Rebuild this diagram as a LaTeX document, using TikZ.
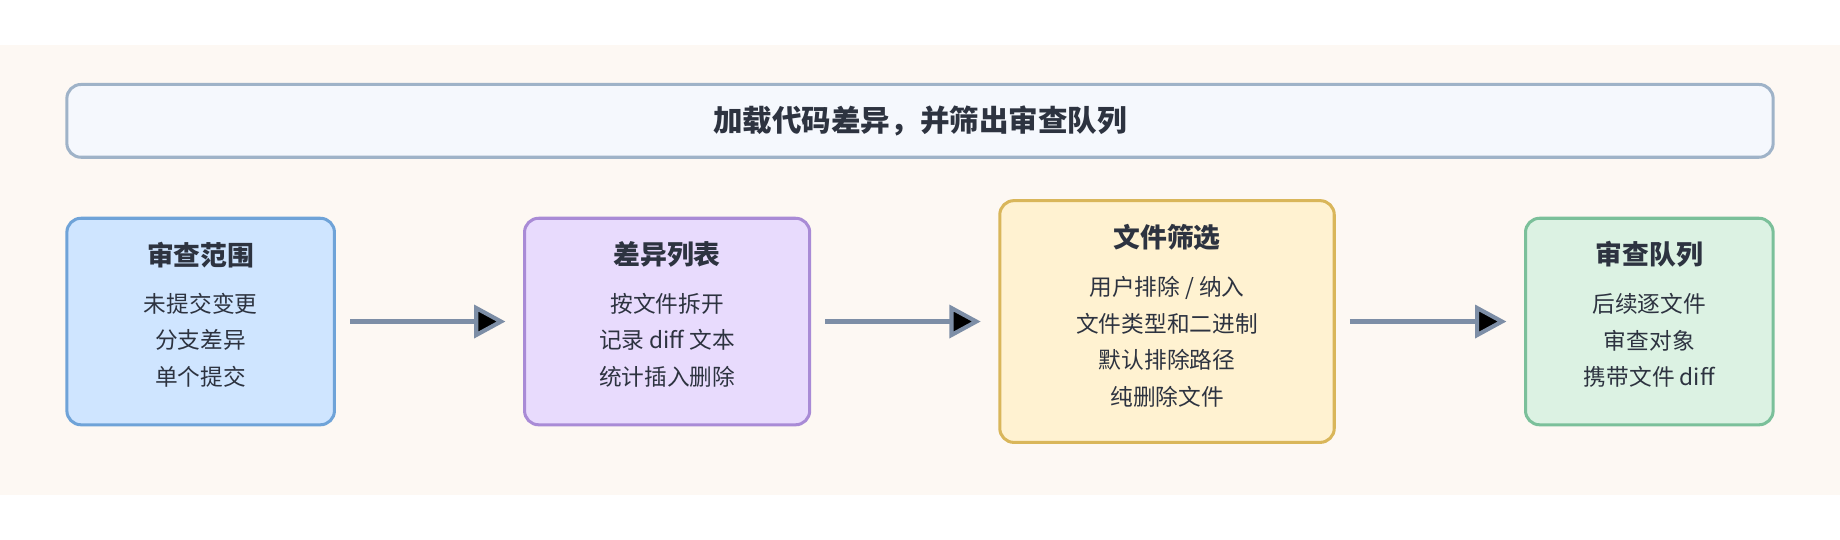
\documentclass[tikz,border=0pt]{standalone}
\usepackage{fontspec}
\setmainfont{Noto Sans CJK SC}
\usetikzlibrary{arrows.meta}

\definecolor{txt}{HTML}{2D3340}
\definecolor{band}{HTML}{FDF8F3}
\definecolor{arr}{HTML}{7D8EA6}

\begin{document}
\begin{tikzpicture}[x=0.03cm,y=-0.03cm,
    ->,>={Triangle[length=0.8cm,width=0.84cm]},
    box/.style={rectangle, draw, line width=2.2pt, rounded corners=0.36cm},
    head/.style={font=\bfseries\fontsize{19.5}{22}\selectfont, text=txt},
    item/.style={font=\fontsize{16.5}{19}\selectfont, text=txt}]

    \useasboundingbox (0,0) rectangle (1568,460);
    \fill[band] (0,38) rectangle (1568,422);

    \node[box,
          draw = {rgb,255:red,159;green,179;blue,200},
          fill = {rgb,255:red,245;green,248;blue,253},
          minimum width = 43.62cm,
          minimum height = 1.86cm
          ] (goal) at (784,103) {};
    \node[font=\bfseries\fontsize{21.5}{24}\selectfont, text=txt] at (goal.center) {加载代码差异，并筛出审查队列};

    \node[box,
          draw = {rgb,255:red,111;green,163;blue,216},
          fill = {rgb,255:red,207;green,229;blue,255},
          minimum width = 6.84cm,
          minimum height = 5.28cm
          ] (scope) at (171,274) {};
    \node[head] at (171,217) {审查范围};
    \node[item] at (171,259) {未提交变更};
    \node[item] at (171,290) {分支差异};
    \node[item] at (171,321) {单个提交};

    \node[box,
          draw = {rgb,255:red,169;green,139;blue,214},
          fill = {rgb,255:red,232;green,219;blue,253},
          minimum width = 7.29cm,
          minimum height = 5.28cm
          ] (diffs) at (568.5,274) {};
    \node[head] at (568.5,217) {差异列表};
    \node[item] at (568.5,259) {按文件拆开};
    \node[item] at (568.5,290) {记录 diff 文本};
    \node[item] at (568.5,321) {统计插入删除};

    \node[box,
          draw = {rgb,255:red,217;green,182;blue,90},
          fill = {rgb,255:red,255;green,242;blue,209},
          minimum width = 8.55cm,
          minimum height = 6.18cm
          ] (filter) at (994.5,274) {};
    \node[head] at (994.5,202) {文件筛选};
    \node[item] at (994.5,245) {用户排除 / 纳入};
    \node[item] at (994.5,276) {文件类型和二进制};
    \node[item] at (994.5,307) {默认排除路径};
    \node[item] at (994.5,338) {纯删除文件};

    \node[box,
          draw = {rgb,255:red,123;green,192;blue,154},
          fill = {rgb,255:red,220;green,242;blue,227},
          minimum width = 6.33cm,
          minimum height = 5.28cm
          ] (queue) at (1405.5,274) {};
    \node[head] at (1405.5,217) {审查队列};
    \node[item] at (1405.5,259) {后续逐文件};
    \node[item] at (1405.5,290) {审查对象};
    \node[item] at (1405.5,321) {携带文件 diff};

    \path[draw=arr, line width=3pt]
    (scope) edge [shorten <=0.36cm, shorten >=0.45cm] (diffs)
    (diffs) edge [shorten <=0.36cm, shorten >=0.45cm] (filter)
    (filter) edge [shorten <=0.36cm, shorten >=0.45cm] (queue);

\end{tikzpicture}
\end{document}
